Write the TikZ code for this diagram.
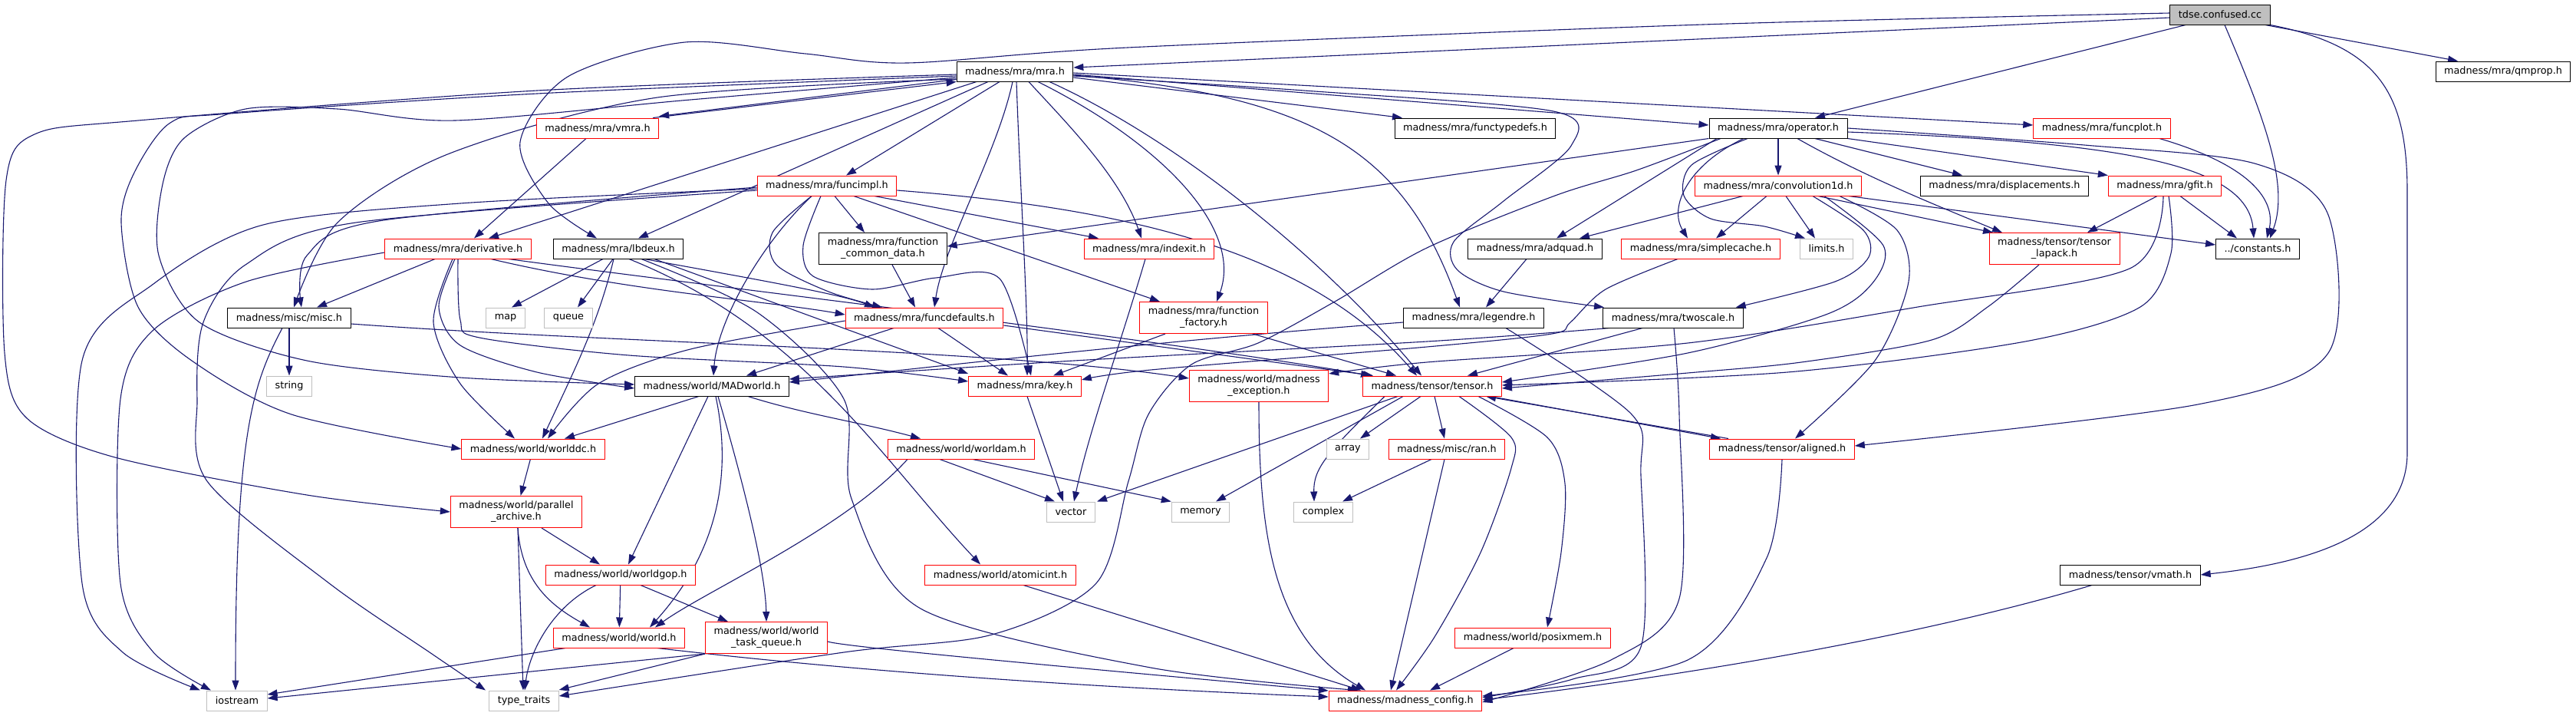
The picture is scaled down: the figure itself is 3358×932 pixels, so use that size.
\documentclass[tikz,border=0pt]{standalone}
\usepackage{fontspec}
\setmainfont{DejaVu Sans}
\usetikzlibrary{arrows.meta}
\definecolor{dx-edge}{HTML}{191970}
\definecolor{dx-red}{HTML}{FF0000}
\definecolor{dx-grey}{HTML}{BFBFBF}
\definecolor{dx-root}{HTML}{BFBFBF}
\pgfdeclarelayer{bg}
\pgfsetlayers{bg,main}

\begin{document}
\begin{tikzpicture}[x=1pt,y=-1pt,font=\fontsize{12.8}{15}\selectfont,
  incbox/.style={draw,line width=1pt,fill=white,inner xsep=11pt,inner ysep=0pt,minimum height=26pt,align=center},
  hfile/.style={incbox,draw=black},
  htrunc/.style={incbox,draw=dx-red},
  hsys/.style={incbox,draw=dx-grey},
  hroot/.style={incbox,draw=black,fill=dx-root},
  tall/.style={minimum height=41pt},
  dep/.style={draw=dx-edge,line width=1.1pt,-{Triangle[length=13pt,width=9pt]}}]

% ============ files ============
\node[hroot] (tdse) at (2894,19) {tdse.confused.cc};
\node[hfile] (qmprop) at (3263,93) {madness/mra/qmprop.h};
\node[hfile] (mra) at (1323,93) {madness/mra/mra.h};
\node[htrunc] (vmra) at (779,167) {madness/mra/vmra.h};
\node[hfile] (ftypes) at (1923,167) {madness/mra/functypedefs.h};
\node[hfile] (operator) at (2318,167) {madness/mra/operator.h};
\node[htrunc] (funcplot) at (2740,167) {madness/mra/funcplot.h};
\node[htrunc] (funcimpl) at (1078,242) {madness/mra/funcimpl.h};
\node[htrunc] (conv) at (2318,242) {madness/mra/convolution1d.h};
\node[hfile] (displ) at (2613,242) {madness/mra/displacements.h};
\node[htrunc] (gfit) at (2822,242) {madness/mra/gfit.h};
\node[htrunc] (deriv) at (597,324) {madness/mra/derivative.h};
\node[hfile] (lbdeux) at (806,324) {madness/mra/lbdeux.h};
\node[hfile,tall] (fcd) at (1151,324) {madness/mra/function\\\_common\_data.h};
\node[htrunc] (indexit) at (1498,324) {madness/mra/indexit.h};
\node[hfile] (adquad) at (2001,324) {madness/mra/adquad.h};
\node[htrunc] (scache) at (2217,324) {madness/mra/simplecache.h};
\node[hsys] (limits) at (2381,324) {limits.h};
\node[htrunc,tall] (lapack) at (2678,324) {madness/tensor/tensor\\\_lapack.h};
\node[hfile] (consts) at (2943,324) {../constants.h};
\node[hfile] (misc) at (377,414) {madness/misc/misc.h};
\node[hsys] (map) at (659,414) {map};
\node[hsys] (queue) at (741,414) {queue};
\node[htrunc] (fdef) at (1205,414) {madness/mra/funcdefaults.h};
\node[htrunc,tall] (ffact) at (1569,414) {madness/mra/function\\\_factory.h};
\node[hfile] (legendre) at (1921,414) {madness/mra/legendre.h};
\node[hfile] (twoscale) at (2181,414) {madness/mra/twoscale.h};
\node[hsys] (string) at (377,503) {string};
\node[hfile] (madworld) at (928,503) {madness/world/MADworld.h};
\node[htrunc] (key) at (1336,503) {madness/mra/key.h};
\node[htrunc,tall] (mexc) at (1641,503) {madness/world/madness\\\_exception.h};
\node[htrunc] (tensor) at (1867,503) {madness/tensor/tensor.h};
\node[htrunc] (worlddc) at (695,585) {madness/world/worlddc.h};
\node[htrunc] (worldam) at (1253,585) {madness/world/worldam.h};
\node[hsys] (array) at (1757,585) {array};
\node[htrunc] (ran) at (1886,585) {madness/misc/ran.h};
\node[htrunc] (aligned) at (2323,585) {madness/tensor/aligned.h};
\node[hsys] (vector) at (1396,667) {vector};
\node[hsys] (memory) at (1565,667) {memory};
\node[hsys] (complex) at (1725,667) {complex};
\node[htrunc,tall] (parch) at (673,667) {madness/world/parallel\\\_archive.h};
\node[htrunc] (worldgop) at (809,749) {madness/world/worldgop.h};
\node[htrunc] (atomicint) at (1304,749) {madness/world/atomicint.h};
\node[hfile] (vmath) at (2777,749) {madness/tensor/vmath.h};
\node[htrunc] (world) at (807,831) {madness/world/world.h};
\node[htrunc,tall] (wtq) at (999,831) {madness/world/world\\\_task\_queue.h};
\node[htrunc] (posix) at (1998,831) {madness/world/posixmem.h};
\node[hsys] (iostream) at (309,913) {iostream};
\node[hsys] (typetr) at (683,913) {type\_traits};
\node[htrunc] (config) at (1832,913) {madness/madness\_config.h};

\begin{pgfonlayer}{bg}
\path[use as bounding box,fill=white] (0,0) rectangle (3358,932);

% ============ from the root file ============
\draw[dep] ([yshift=-4pt]tdse.west) -- ([yshift=5pt]mra.east);
\draw[dep] plot[smooth] coordinates {([yshift=2pt]tdse.west) (2220,32) (1470,62) (1183,82) (1050,70) (893,55) (740,100) (678,185) (715,265) ([xshift=-28pt]lbdeux.north)};
\draw[dep] ([xshift=-45pt]tdse.south) -- ([xshift=48pt]operator.north);
\draw[dep] ([xshift=59pt]tdse.south) -- ([xshift=-59pt]qmprop.north);
\draw[dep] ([xshift=6pt]tdse.south) .. controls (2950,150) and (2985,240) .. ([xshift=16pt]consts.north);
\draw[dep] (tdse.south east) .. controls (3100,60) and (3138,120) .. (3138,250) -- (3138,590) .. controls (3138,700) and (3000,735) .. (vmath.east);

% ============ mra.h ============
\draw[dep] ([yshift=3pt]mra.south west) -- ([yshift=2pt]vmra.north east);
\draw[dep] ([xshift=-8pt]vmra.north east) -- (mra.south west);
\draw[dep] plot[smooth] coordinates {([yshift=-4pt]mra.west) (700,118) (180,157) (45,175) (8,235) (6,460) (35,545) (150,596) (400,645) (parch.west)};
\draw[dep] plot[smooth] coordinates {([yshift=-6pt]mra.west) (700,122) (300,148) (222,160) (175,225) (158,290) (180,400) (250,470) (380,540) (worlddc.west)};
\draw[dep] plot[smooth] coordinates {([yshift=-8pt]mra.west) (900,130) (593,157) (440,142) (320,142) (240,180) (212,240) (207,333) (260,420) (400,470) (600,492) ([yshift=2pt]madworld.west)};
\draw[dep] plot[smooth] coordinates {([yshift=-10pt]mra.west) (857,127) (586,200) (440,290) ([xshift=6pt]misc.north)};
\draw[dep] ([xshift=-50pt]mra.south) -- ([xshift=40pt]deriv.north);
\draw[dep] ([xshift=-35pt]mra.south) -- ([xshift=26pt]lbdeux.north);
\draw[dep] ([xshift=-20pt]mra.south) -- ([xshift=25pt]funcimpl.north);
\draw[dep] ([xshift=-3pt]mra.south) .. controls (1300,200) and (1230,320) .. ([xshift=13pt]fdef.north);
\draw[dep] ([xshift=2pt]mra.south) .. controls (1330,250) and (1340,400) .. ([xshift=3pt]key.north);
\draw[dep] ([xshift=18pt]mra.south) .. controls (1390,160) and (1460,230) .. ([xshift=-10pt]indexit.north);
\draw[dep] ([xshift=30pt]mra.south) .. controls (1520,190) and (1620,300) .. ([xshift=17pt]ffact.north);
\draw[dep] ([xshift=45pt]mra.south) .. controls (1530,180) and (1720,330) .. ([xshift=-14pt]tensor.north);
\draw[dep] ([yshift=-5pt]mra.east) .. controls (1720,125) and (1830,200) .. ([xshift=-18pt]legendre.north);
\draw[dep] ([yshift=-8pt]mra.east) -- ([xshift=-95pt]ftypes.north);
\draw[dep] ([yshift=-4pt]mra.east) -- ([yshift=4pt]operator.west);
\draw[dep] ([yshift=-2pt]mra.east) -- ([yshift=4pt]funcplot.west);
\draw[dep] plot[smooth] coordinates {([yshift=-6pt]mra.east) (1700,118) (2025,145) (2048,190) (1960,262) (1895,315) (1900,352) (1960,380) ([xshift=-90pt]twoscale.north)};
\draw[dep] ([xshift=-15pt]vmra.south) -- ([xshift=21pt]deriv.north);

% ============ funcimpl.h ============
\draw[dep] ([xshift=10pt]funcimpl.south) -- ([xshift=-24pt]fcd.north);
\draw[dep] ([xshift=62pt]funcimpl.south) -- ([xshift=-66pt]indexit.north);
\draw[dep] ([xshift=35pt]funcimpl.south) -- ([xshift=-57pt]ffact.north);
\draw[dep] ([yshift=-6pt]funcimpl.east) .. controls (1450,270) and (1700,320) .. ([xshift=-20pt]tensor.north);
\draw[dep] plot[smooth] coordinates {([xshift=-8pt]funcimpl.south) (1047,320) (1060,360) (1137,377) (1220,362) (1303,363) ([xshift=8pt]key.north)};
\draw[dep] ([xshift=-20pt]funcimpl.south) .. controls (990,320) and (935,420) .. ([xshift=2pt]madworld.north);
\draw[dep] plot[smooth] coordinates {([xshift=-20pt]funcimpl.south) (1007,303) (1012,345) (1080,380) ([xshift=-55pt]fdef.north)};
\draw[dep] plot[smooth] coordinates {([yshift=-2pt]funcimpl.west) (500,287) (400,333) ([xshift=16pt]misc.north)};
\draw[dep] plot[smooth] coordinates {([yshift=-4pt]funcimpl.west) (600,265) (343,293) (200,370) (107,470) (107,760) (160,850) ([xshift=-48pt]iostream.north)};
\draw[dep] plot[smooth] coordinates {([yshift=-6pt]funcimpl.west) (464,290) (320,345) (265,420) (257,520) (270,627) (429,760) (560,850) ([xshift=-50pt]typetr.north)};

% ============ operator.h ============
\draw[dep] (operator) -- (conv);
\draw[dep] ([xshift=48pt]operator.south) -- ([xshift=-55pt]displ.north);
\draw[dep] (operator.south east) -- (gfit.north west);
\draw[dep] ([xshift=25pt]operator.south) .. controls (2430,230) and (2530,270) .. ([xshift=-68pt]lapack.north);
\draw[dep] ([yshift=-5pt]operator.east) .. controls (2750,185) and (2930,210) .. ([xshift=-5pt]consts.north);
\draw[dep] plot[smooth] coordinates {(operator.east) (2717,189) (2939,213) (3035,280) (3035,460) (2865,527) ([yshift=4pt]aligned.east)};
\draw[dep] ([xshift=-45pt]operator.south) .. controls (2200,215) and (2175,270) .. ([xshift=-17pt]scache.north);
\draw[dep] plot[smooth] coordinates {([xshift=-40pt]operator.south) (2205,215) (2195,255) (2230,285) (2300,295) ([xshift=-28pt]limits.north)};
\draw[dep] ([xshift=-80pt]operator.south) -- ([xshift=28pt]adquad.north);
\draw[dep] (operator.south west) -- ([yshift=3pt]fcd.east);
\draw[dep] plot[smooth] coordinates {([xshift=-75pt]operator.south) (2133,222) (2027,255) (1860,323) (1740,393) (1640,447) (1553,475) (1497,540) (1471,627) (1429,760) (1293,827) (1100,850) ([yshift=6pt]typetr.east)};

% ============ convolution1d.h ============
\draw[dep] ([xshift=-46pt]conv.south) -- ([xshift=58pt]adquad.north);
\draw[dep] ([xshift=-15pt]conv.south) -- ([xshift=20pt]scache.north);
\draw[dep] ([xshift=10pt]conv.south) -- ([xshift=-15pt]limits.north);
\draw[dep] ([xshift=52pt]conv.south) -- ([xshift=-80pt]lapack.north);
\draw[dep] ([xshift=-17pt]conv.south east) -- ([yshift=5pt]consts.west);
\draw[dep] plot[smooth] coordinates {([xshift=45pt]conv.south) (2429,300) (2436,335) (2392,367) ([xshift=-10pt]twoscale.north east)};
\draw[dep] plot[smooth] coordinates {([xshift=80pt]conv.south) (2473,300) (2488,367) (2444,470) ([xshift=17pt]aligned.north)};
\draw[dep] plot[smooth] coordinates {([xshift=60pt]conv.south) (2455,320) (2440,370) (2380,410) (2200,460) ([yshift=5pt]tensor.east)};

% ============ gfit.h, funcplot.h, tensor_lapack.h ============
\draw[dep] ([xshift=-10pt]gfit.south) -- ([xshift=43pt]lapack.north);
\draw[dep] ([xshift=20pt]gfit.south) -- ([xshift=-27pt]consts.north);
\draw[dep] plot[smooth] coordinates {([xshift=5pt]gfit.south) (2830,330) (2790,400) (2640,445) (2330,485) ([yshift=1pt]tensor.east)};
\draw[dep] plot[smooth] coordinates {([xshift=-2pt]gfit.south) (2776,350) (2500,400) (2200,447) (1860,472) ([yshift=16pt]mexc.east)};
\draw[dep] ([xshift=75pt]funcplot.south) .. controls (2950,220) and (2965,270) .. ([xshift=12pt]consts.north);
\draw[dep] plot[smooth] coordinates {([xshift=-20pt]lapack.south) (2591,400) (2518,443) (2348,472) (2200,486) ([yshift=-3pt]tensor.east)};

% ============ derivative.h, lbdeux.h, misc.h ============
\draw[dep] ([xshift=-30pt]deriv.south) -- ([xshift=36pt]misc.north);
\draw[dep] plot[smooth] coordinates {([yshift=-5pt]deriv.west) (321,367) (200,430) (157,520) (157,760) (200,850) ([xshift=-34pt]iostream.north)};
\draw[dep] plot[smooth] coordinates {([xshift=-7pt]deriv.south) (565,420) (600,500) ([xshift=-24pt]worlddc.north)};
\draw[dep] plot[smooth] coordinates {([xshift=-4pt]deriv.south) (572,400) (600,450) (700,485) ([yshift=-3pt]madworld.west)};
\draw[dep] plot[smooth] coordinates {([xshift=0pt]deriv.south) (600,417) (625,440) (820,463) (1100,478) ([yshift=6pt]key.west)};
\draw[dep] ([xshift=43pt]deriv.south) .. controls (820,380) and (1000,392) .. ([yshift=4pt]fdef.west);
\draw[dep] ([xshift=66pt]deriv.south) .. controls (900,370) and (1500,440) .. ([xshift=-80pt]tensor.north);
\draw[dep] ([xshift=-20pt]lbdeux.south) -- ([xshift=8pt]map.north);
\draw[dep] ([xshift=-7pt]lbdeux.south) -- ([xshift=12pt]queue.north);
\draw[dep] ([xshift=-6pt]lbdeux.south) .. controls (780,420) and (750,480) .. ([xshift=12pt]worlddc.north);
\draw[dep] ([xshift=34pt]lbdeux.south) .. controls (1020,370) and (1100,385) .. ([xshift=-65pt]fdef.north);
\draw[dep] ([xshift=47pt]lbdeux.south) -- ([yshift=16pt]key.west);
\draw[dep] ([xshift=14pt]lbdeux.south) .. controls (1050,430) and (1150,600) .. ([xshift=-26pt]atomicint.north);
\draw[dep] plot[smooth] coordinates {([xshift=30pt]lbdeux.south) (987,407) (1100,520) (1110,650) (1200,793) (1500,870) ([xshift=-62pt]config.north)};
\draw[dep] (misc) -- (string);
\draw[dep] ([xshift=-9pt]misc.south) .. controls (330,500) and (307,560) .. ([xshift=-2pt]iostream.north);
\draw[dep] ([yshift=-8pt]misc.east) .. controls (800,447) and (1300,455) .. ([yshift=10pt]mexc.west);
\draw[dep] ([xshift=12pt]fcd.south) -- ([xshift=-12pt]fdef.north);

% ============ funcdefaults.h and its row ============
\draw[dep] ([xshift=-40pt]fdef.south) -- ([xshift=45pt]madworld.north);
\draw[dep] plot[smooth] coordinates {([yshift=-4pt]fdef.west) (900,455) (780,500) ([xshift=19pt]worlddc.north)};
\draw[dep] ([xshift=18pt]fdef.south) -- ([xshift=-22pt]key.north);
\draw[dep] ([yshift=-10pt]fdef.east) -- ([xshift=-77pt]tensor.north);
\draw[dep] ([xshift=-50pt]ffact.south) -- ([xshift=37pt]key.north);
\draw[dep] ([xshift=64pt]ffact.south) -- ([xshift=-47pt]tensor.north);
\draw[dep] ([xshift=-5pt]indexit.south) .. controls (1460,450) and (1420,560) .. ([xshift=4pt]vector.north);
\draw[dep] ([xshift=-11pt]adquad.south) -- ([xshift=16pt]legendre.north);
\draw[dep] ([yshift=-6pt]legendre.west) .. controls (1500,445) and (1200,480) .. ([yshift=5pt]madworld.east);
\draw[dep] plot[smooth] coordinates {([xshift=42pt]legendre.south) (2127,540) (2139,620) (2139,843) (2050,885) ([yshift=4pt]config.east)};
\draw[dep] ([xshift=-40pt]twoscale.south) -- ([xshift=46pt]tensor.north);
\draw[dep] plot[smooth] coordinates {([xshift=1pt]twoscale.south) (2189,540) (2189,780) (2100,860) ([yshift=-2pt]config.east)};
\draw[dep] plot[smooth] coordinates {([xshift=-83pt]twoscale.south) (1860,445) (1400,470) ([yshift=9pt]madworld.east)};
\draw[dep] plot[smooth] coordinates {([xshift=-30pt]scache.south) (2093,377) (2047,420) (2023,435) (1860,452) (1500,482) ([yshift=8pt]key.east)};

% ============ world layer ============
\draw[dep] ([xshift=-17pt]madworld.south) -- ([xshift=41pt]worlddc.north);
\draw[dep] ([xshift=-5pt]madworld.south) -- ([xshift=10pt]worldgop.north);
\draw[dep] ([xshift=5pt]madworld.south) .. controls (955,620) and (935,720) .. ([xshift=40pt]world.north);
\draw[dep] ([xshift=8pt]madworld.south) .. controls (975,650) and (998,750) .. (wtq.north);
\draw[dep] ([xshift=47pt]madworld.south) .. controls (1050,540) and (1120,550) .. ([xshift=-53pt]worldam.north);
\draw[dep] (worlddc) -- (parch);
\draw[dep] ([xshift=33pt]parch.south) -- ([xshift=-27pt]worldgop.north);
\draw[dep] ([xshift=2pt]parch.south) .. controls (680,760) and (720,790) .. ([xshift=-38pt]world.north);
\draw[dep] ([xshift=2pt]parch.south) -- ([xshift=-1pt]typetr.north);
\draw[dep] (worldgop) -- (world);
\draw[dep] ([xshift=26pt]worldgop.south) -- ([xshift=-50pt]wtq.north);
\draw[dep] ([xshift=-32pt]worldgop.south) .. controls (720,790) and (690,850) .. ([xshift=1pt]typetr.north);
\draw[dep] ([xshift=-70pt]world.south) -- ([yshift=8pt]iostream.east);
\draw[dep] ([xshift=50pt]world.south) .. controls (1100,873) and (1400,895) .. ([yshift=5pt]config.west);
\draw[dep] (wtq.south west) -- ([yshift=3pt]iostream.east);
\draw[dep] (wtq.south west) -- ([yshift=14pt]typetr.east);
\draw[dep] ([yshift=-5pt]wtq.east) .. controls (1100,843) and (1400,870) .. ([yshift=13pt]config.west);
\draw[dep] ([xshift=-28pt]worldam.south) -- ([xshift=-21pt]vector.north);
\draw[dep] ([xshift=15pt]worldam.south) -- (memory.north west);
\draw[dep] ([xshift=-70pt]worldam.south) .. controls (1100,690) and (920,770) .. ([xshift=47pt]world.north);
\draw[dep] ([xshift=30pt]atomicint.south) -- ([xshift=-58pt]config.north);
\draw[dep] ([xshift=3pt]key.south) -- ([xshift=-10pt]vector.north);
\draw[dep] (mexc.south) .. controls (1641,700) and (1660,830) .. ([xshift=-52pt]config.north);

% ============ tensor.h and below ============
\draw[dep] ([xshift=-15pt]tensor.south) -- ([xshift=16pt]array.north);
\draw[dep] ([xshift=3pt]tensor.south) -- ([xshift=-3pt]ran.north);
\draw[dep] ([xshift=-45pt]tensor.south) -- ([xshift=34pt]vector.north);
\draw[dep] ([xshift=-38pt]tensor.south) -- ([xshift=20pt]memory.north);
\draw[dep] ([xshift=-62pt]tensor.south) .. controls (1730,590) and (1712,610) .. ([xshift=-12pt]complex.north);
\draw[dep] plot[smooth] coordinates {([xshift=35pt]tensor.south) (1970,570) (1970,610) (1930,720) (1870,830) ([xshift=-12pt]config.north)};
\draw[dep] plot[smooth] coordinates {([xshift=60pt]tensor.south) (2017,570) (2040,630) (2035,720) ([xshift=19pt]posix.north)};
\draw[dep] ([xshift=76pt]tensor.south) -- ([xshift=-80pt]aligned.north);
\draw[dep] ([xshift=-70pt]aligned.north) -- ([xshift=70pt]tensor.south);
\draw[dep] ([xshift=-20pt]ran.south) -- ([xshift=25pt]complex.north);
\draw[dep] ([xshift=-3pt]ran.south) -- ([xshift=-19pt]config.north);
\draw[dep] ([xshift=-25pt]posix.south) -- ([xshift=32pt]config.north);
\draw[dep] plot[smooth] coordinates {(aligned.south) (2303,727) (2200,860) ([yshift=6pt]config.east)};
\draw[dep] ([xshift=-50pt]vmath.south) .. controls (2500,830) and (2200,880) .. ([yshift=1pt]config.east);
\end{pgfonlayer}

\end{tikzpicture}
\end{document}
